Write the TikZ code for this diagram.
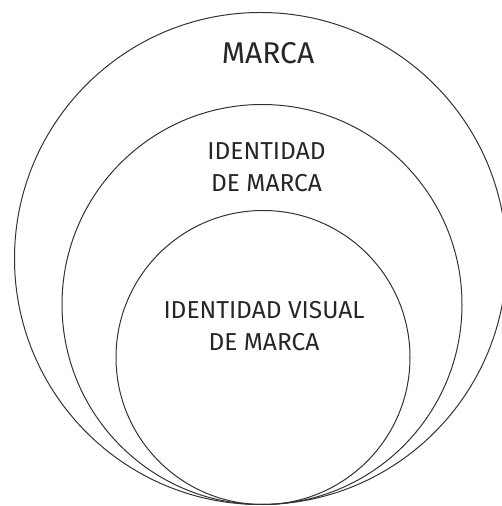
\documentclass[tikz,border=0pt]{standalone}
\usepackage{fontspec}
\setmainfont{Fira Sans}
\usetikzlibrary{positioning}
\tikzset{
  ring/.style={draw=black!80, circle, line width=1pt, inner sep=0pt},
  bigtag/.style={align=center, font=\fontsize{30}{34}\selectfont, text=black!85},
  ringtag/.style={align=center, font=\fontsize{24.5}{32}\selectfont, text=black!85}
}
\begin{document}
\begin{tikzpicture}[x=1pt, y=1pt]
  \useasboundingbox (0,0) rectangle (501,506);
  % three circles touching at the bottom
  \node[ring, minimum size=492pt] (marca) at (260.5,247.5) {};
  \node[ring, minimum size=400pt] (identidad) at (262,201.5) {};
  \node[ring, minimum size=294pt] (visual) at (263,148.5) {};

  \node[bigtag] (tmarca) at (268,453) {MARCA};
  \node[ringtag] (tidentidad) at (266.5,338.5) {IDENTIDAD\\DE MARCA};
  \node[ringtag] (tvisual) at (264,180) {IDENTIDAD VISUAL\\DE MARCA};
\end{tikzpicture}
\end{document}
